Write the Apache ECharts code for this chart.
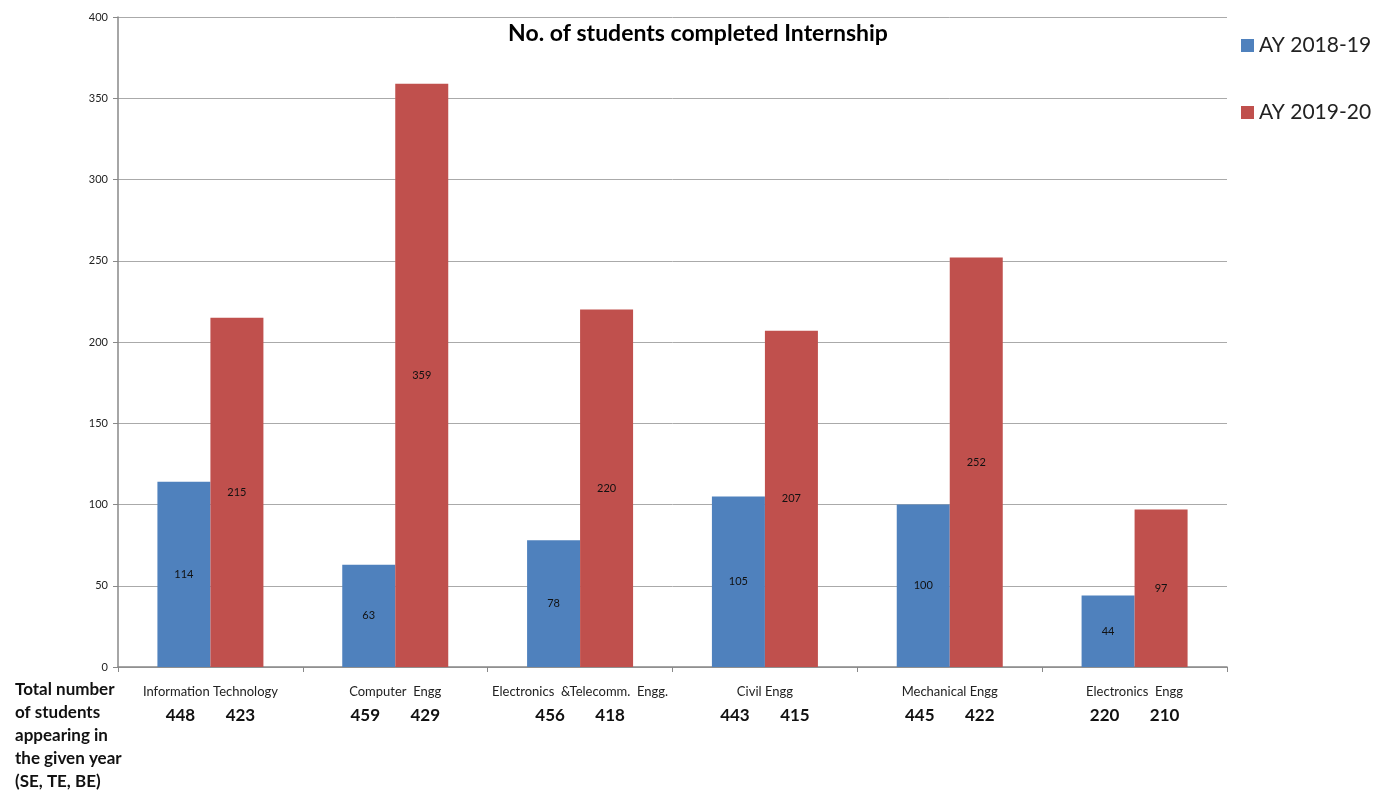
<!DOCTYPE html>
<html>
<head>
<meta charset="utf-8">
<script src="https://cdn.jsdelivr.net/npm/echarts@6/dist/echarts.min.js"></script>
<style>
  html, body { margin: 0; padding: 0; background: #fff; }
  #chart { width: 1377px; height: 792px; }
</style>
</head>
<body>
<div id="chart"></div>
<script>
var categories = ['Information Technology', 'Computer  Engg', 'Electronics  &Telecomm.  Engg.',
  'Civil Engg', 'Mechanical Engg', 'Electronics  Engg'];
var seriesNames = ['AY 2018-19', 'AY 2019-20'];
var internships1819 = [114, 63, 78, 105, 100, 44];
var internships1920 = [215, 359, 220, 207, 252, 97];
var totals1819 = [448, 459, 456, 443, 445, 220];
var totals1920 = [423, 429, 418, 415, 422, 210];
var yTicks = [0, 50, 100, 150, 200, 250, 300, 350, 400];

var font = 'Lato, "Open Sans", sans-serif';
var myChart = echarts.init(document.getElementById('chart'));

var option = {
  backgroundColor: '#fff',
  animation: false,
  textStyle: { fontFamily: font },
  title: {
    text: 'No. of students completed Internship',
    left: 693,
    textAlign: 'center',
    top: 17,
    textStyle: { fontSize: 23, fontWeight: 'bold', color: '#000', fontFamily: font }
  },
  legend: {
    orient: 'vertical',
    left: 1236,
    top: 30,
    itemGap: 46,
    itemWidth: 13,
    itemHeight: 13,
    icon: 'rect',
    textStyle: { fontSize: 21, color: '#222', fontFamily: font, padding: [0, 0, 0, 0] },
    data: seriesNames
  },
  grid: { left: 118, right: 150, top: 17, bottom: 125, containLabel: false },
  xAxis: {
    type: 'category',
    data: categories,
    axisLine: { lineStyle: { color: '#888', width: 1.5 } },
    axisTick: { show: true, length: 5, lineStyle: { color: '#888' } },
    axisLabel: {
      interval: 0,
      margin: 14,
      formatter: function (value, idx) {
        return '{n|' + value + '}\n{a|' + totals1819[idx] + '}{b|' + totals1920[idx] + '}';
      },
      rich: {
        n: { fontSize: 13, color: '#222', fontFamily: font, lineHeight: 22, width: 184, align: 'center' },
        a: { fontSize: 17, fontWeight: 'bold', color: '#111', fontFamily: font, width: 60, align: 'center', lineHeight: 26 },
        b: { fontSize: 17, fontWeight: 'bold', color: '#111', fontFamily: font, width: 60, align: 'center', lineHeight: 26 }
      }
    }
  },
  yAxis: {
    type: 'value',
    min: yTicks[0],
    max: yTicks[yTicks.length - 1],
    interval: 50,
    axisLine: { show: true, lineStyle: { color: '#888', width: 1.5 } },
    axisTick: { show: true, length: 5, lineStyle: { color: '#888' } },
    axisLabel: { fontSize: 11, color: '#222', margin: 10, fontFamily: font },
    splitLine: { lineStyle: { color: '#aaa', width: 1 } }
  },
  graphic: [
    {
      type: 'text',
      left: 15,
      top: 678,
      style: {
        text: 'Total number\nof students\nappearing in\nthe given year\n(SE, TE, BE)',
        font: 'bold 17px ' + font,
        lineHeight: 23,
        fill: '#111'
      }
    }
  ],
  series: [
    {
      name: seriesNames[0],
      type: 'bar',
      data: internships1819,
      barWidth: 53,
      barGap: '0%',
      itemStyle: { color: '#4F81BD' },
      label: { show: true, position: 'inside', fontSize: 11, color: '#111', fontFamily: font }
    },
    {
      name: seriesNames[1],
      type: 'bar',
      data: internships1920,
      barWidth: 53,
      barGap: '0%',
      itemStyle: { color: '#C0504D' },
      label: { show: true, position: 'inside', fontSize: 11, color: '#111', fontFamily: font }
    }
  ]
};

myChart.setOption(option);
</script>
</body>
</html>
